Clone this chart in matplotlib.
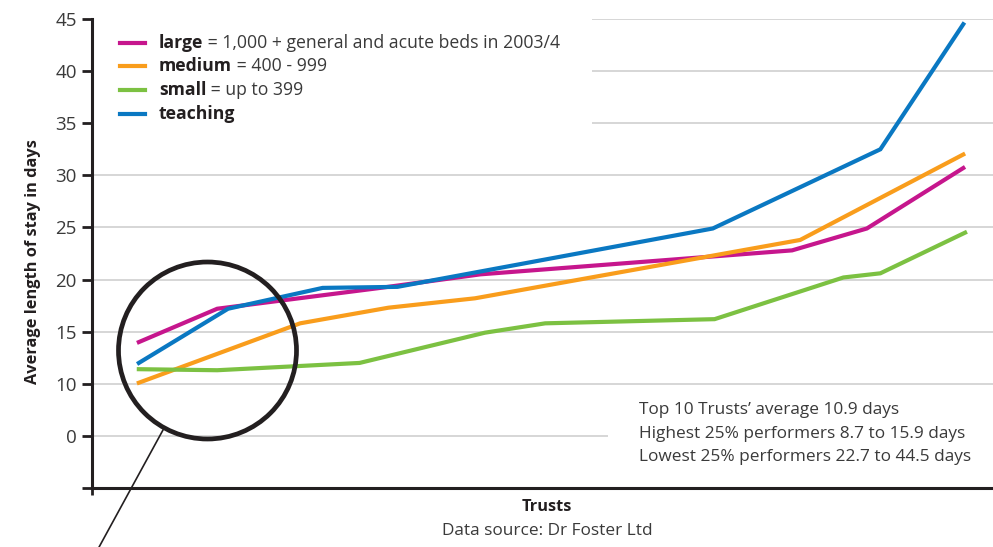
import matplotlib
matplotlib.use("Agg")
import matplotlib.pyplot as plt
from matplotlib.patches import Ellipse, Rectangle
from matplotlib.lines import Line2D

plt.rcParams['font.family'] = ['Open Sans', 'DejaVu Sans']

# Trust rank position (0-100 along the x axis) and average length of stay (days)
large_x = [5.2, 13.9, 32.0, 43.1, 77.7, 86.0, 96.7]
large_y = [14.0, 17.2, 19.2, 20.5, 22.8, 24.9, 30.7]

medium_x = [5.2, 23.1, 32.9, 42.5, 78.6, 96.7]
medium_y = [10.1, 15.8, 17.3, 18.2, 23.8, 32.0]

small_x = [5.2, 13.9, 29.7, 43.6, 50.3, 69.1, 83.4, 87.5, 96.9]
small_y = [11.4, 11.3, 12.0, 14.9, 15.8, 16.2, 20.2, 20.6, 24.5]

teaching_x = [5.2, 15.1, 25.6, 33.9, 68.9, 87.5, 96.7]
teaching_y = [12.0, 17.2, 19.2, 19.3, 24.9, 32.5, 44.5]

yticks = [0, 5, 10, 15, 20, 25, 30, 35, 40, 45]
ytick_labels = ["", "0", "10", "15", "20", "25", "30", "35", "40", "45"]

legend_bold = ["large", "medium", "small", "teaching"]
legend_rest = [" = 1,000 + general and acute beds in 2003/4", " = 400 - 999", " = up to 399", ""]
notes = ["Top 10 Trusts\u2019 average 10.9 days",
         "Highest 25% performers 8.7 to 15.9 days",
         "Lowest 25% performers 22.7 to 44.5 days"]

MAGENTA = "#c6168d"
ORANGE = "#f99d1c"
GREEN = "#7cc142"
BLUE = "#0a78c2"
DARK = "#231f20"
TXT = "#3a3a3a"
GRID = "#cfcfcf"

W, H = 993, 547


def px(x, y):
    return x / W, 1 - y / H


fig = plt.figure(figsize=(W / 100, H / 100), dpi=100)
ax = fig.add_axes([92 / W, 1 - 488 / H, 1 - 92 / W, (488 - 19) / H])
ax.set_xlim(0, 100)
ax.set_ylim(0, 45)
ax.set_axisbelow(True)

series = [(large_x, large_y, MAGENTA), (medium_x, medium_y, ORANGE),
          (small_x, small_y, GREEN), (teaching_x, teaching_y, BLUE)]
for xs, ys, c in series:
    ax.plot(xs, ys, color=c, lw=3, solid_joinstyle="miter", zorder=3)

ax.set_yticks(yticks)
ax.set_yticklabels(ytick_labels, fontsize=13.5, color=TXT)
ax.set_xticks([0])
ax.set_xticklabels([""])
ax.tick_params(axis="y", length=7, width=2, color=DARK, pad=4)
ax.tick_params(axis="x", length=5, width=2, color=DARK)
ax.grid(axis="y", color=GRID, lw=1.2)
ax.grid(axis="x", visible=False)
for s in ["top", "right"]:
    ax.spines[s].set_visible(False)
for s in ["left", "bottom"]:
    ax.spines[s].set_color(DARK)
    ax.spines[s].set_linewidth(2.2)

# white panels hiding grid behind legend and notes
ax.add_patch(Rectangle(px(92, 145), (592 - 92) / W, 145 / H, transform=fig.transFigure,
                       facecolor="white", edgecolor="none", zorder=1))
ax.add_patch(Rectangle(px(608, 472), (W - 608) / W, (472 - 393) / H, transform=fig.transFigure,
                       facecolor="white", edgecolor="none", zorder=1))

# legend
rows = [43, 66, 90, 114]
colors = [MAGENTA, ORANGE, GREEN, BLUE]
for yy, c, b, r in zip(rows, colors, legend_bold, legend_rest):
    x0, y0 = px(120, yy)
    x1, _ = px(145, yy)
    fig.add_artist(Line2D([x0, x1], [y0, y0], color=c, lw=3, transform=fig.transFigure))
    tx, ty = px(159, yy + 5)
    t = fig.text(tx, ty, b, fontsize=12.7, weight="bold", color=DARK, va="baseline")
    if r:
        ax.annotate(r, xy=(1, 0), xycoords=t, va="bottom", ha="left",
                    fontsize=12.7, color=TXT)

# notes box
for i, line in enumerate(notes):
    tx, ty = px(639, 410 + i * 23.5)
    fig.text(tx, ty, line, fontsize=12.4, color=TXT, va="center", ha="left")

# axis titles
fig.text(*px(33, 262), "Average length of stay in days", rotation=90, fontsize=11.8,
         weight="bold", color=DARK, ha="center", va="center")
fig.text(*px(547, 507), "Trusts", fontsize=11.8, weight="bold", color=DARK, ha="center", va="center")
fig.text(*px(547, 531), "Data source: Dr Foster Ltd", fontsize=12.4, color=TXT, ha="center", va="center")

# highlight circle with pointer
fig.add_artist(Ellipse(px(207.5, 350.5), 2 * 89 / W, 2 * 88.5 / H, transform=fig.transFigure,
                       fill=False, lw=3.4, edgecolor=DARK, zorder=5))
fig.add_artist(Line2D([163 / W, 98 / W], [1 - 430 / H, 1 - 549 / H], color=DARK, lw=1.2,
                      transform=fig.transFigure))

fig.savefig("out.png", dpi=100, facecolor="white")
